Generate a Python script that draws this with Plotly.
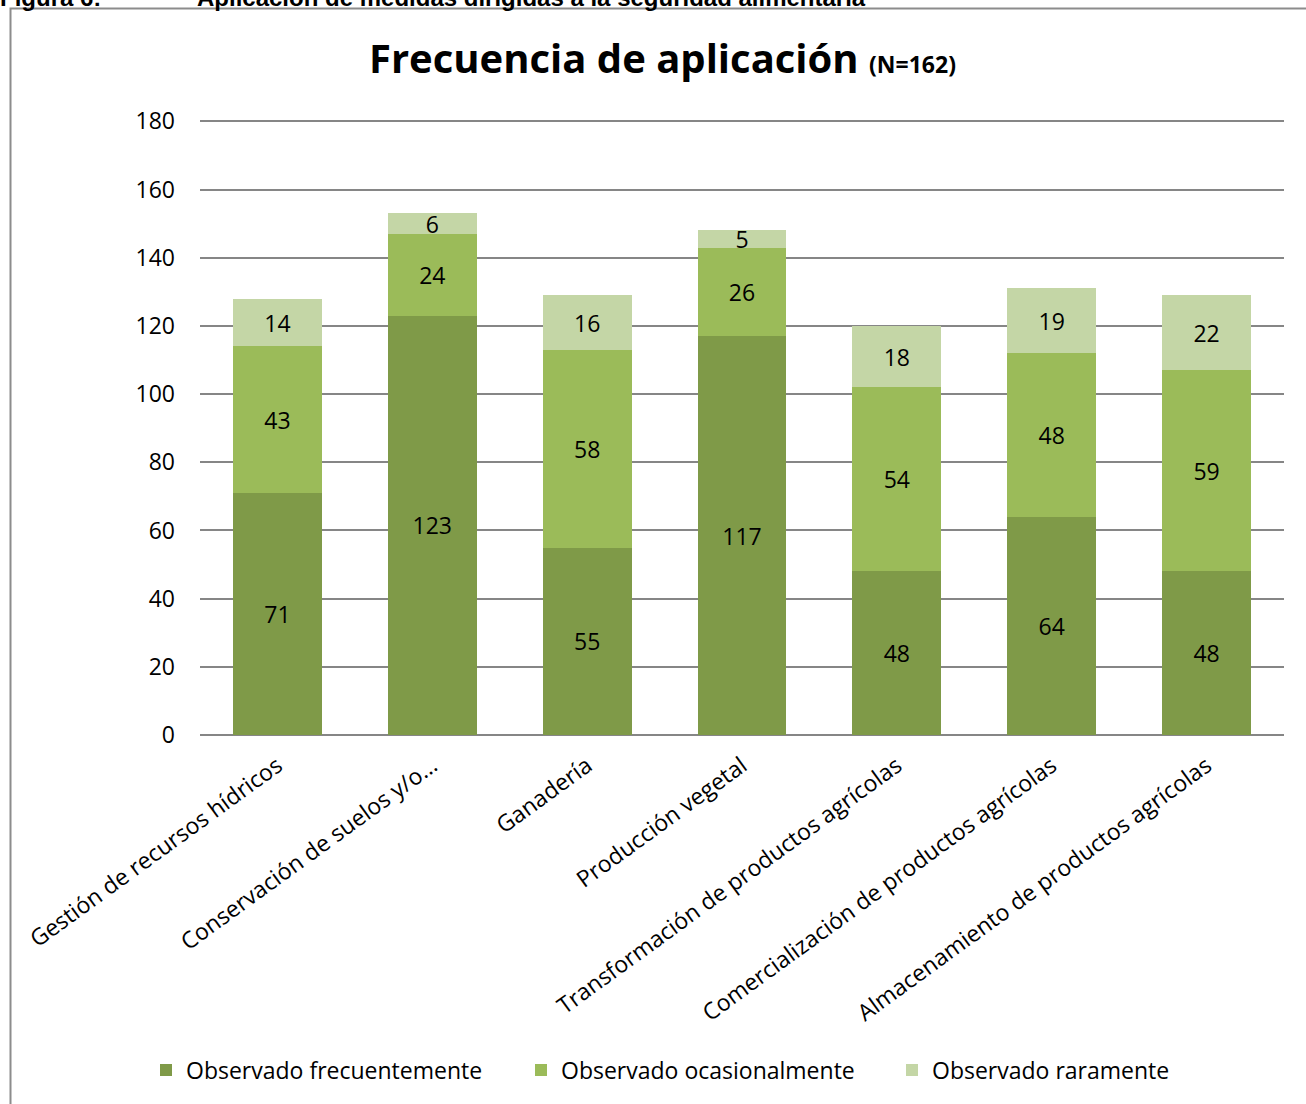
import plotly.graph_objects as go

categories = [
    "Gestión de recursos hídricos",
    "Conservación de suelos y/o…",
    "Ganadería",
    "Producción vegetal",
    "Transformación de productos agrícolas",
    "Comercialización de productos agrícolas",
    "Almacenamiento de productos agrícolas",
]
frecuente = [71, 123, 55, 117, 48, 64, 48]
ocasional = [43, 24, 58, 26, 54, 48, 59]
raro = [14, 6, 16, 5, 18, 19, 22]
series_names = ["Observado frecuentemente", "Observado ocasionalmente", "Observado raramente"]
colors = ["#7F9A48", "#9BBB59", "#C4D6A6"]
y_ticks = [0, 20, 40, 60, 80, 100, 120, 140, 160, 180]

FONT = "Open Sans"
FS = 23

legend_ids = ["legend", "legend2", "legend3"]
legend_x = [146, 521, 892]

fig = go.Figure()
for name, vals, col, lid in zip(series_names, [frecuente, ocasional, raro], colors, legend_ids):
    fig.add_trace(go.Bar(
        x=categories, y=vals, name=name, legend=lid,
        marker=dict(color=col, line=dict(width=0)),
        text=vals, texttemplate="%{text}",
        textposition="inside", insidetextanchor="middle", textangle=0,
        textfont=dict(color="black", size=FS, family=FONT),
        constraintext="none", cliponaxis=False,
    ))

legend_common = dict(
    orientation="h", xref="container", yref="container",
    xanchor="left", y=1 - 1070 / 1104, yanchor="middle",
    font=dict(size=FS, family=FONT), bgcolor="rgba(0,0,0,0)",
)

fig.update_layout(
    barmode="stack",
    bargap=0.426,
    width=1306, height=1104,
    margin=dict(l=200, r=22, t=120, b=369),
    paper_bgcolor="white", plot_bgcolor="white",
    font=dict(family=FONT, color="black", size=FS),
    uniformtext=dict(minsize=FS, mode="show"),
    showlegend=True,
    legend=dict(x=legend_x[0] / 1306, **legend_common),
    legend2=dict(x=legend_x[1] / 1306, **legend_common),
    legend3=dict(x=legend_x[2] / 1306, **legend_common),
    xaxis=dict(
        tickangle=-36, tickfont=dict(size=FS, family=FONT), showgrid=False,
        showline=False, ticks="", zeroline=False, ticklabelstandoff=12,
    ),
    yaxis=dict(
        range=[0, 180.4], tickvals=y_ticks, tickfont=dict(size=FS, family=FONT),
        showgrid=True, gridcolor="#868686", gridwidth=1.5,
        zeroline=True, zerolinecolor="#868686", zerolinewidth=2,
        showline=False, ticks="", ticklabelstandoff=24,
    ),
)

# Title
fig.add_annotation(
    xref="paper", yref="paper", x=(662 - 200) / 1084, y=(735 - 58) / 615,
    xanchor="center", yanchor="middle", showarrow=False,
    text="<b>Frecuencia de aplicación <span style='font-size:23px'>(N=162)</span></b>",
    font=dict(size=40, family=FONT, color="black"),
)

# Cut-off caption above frame
fig.add_annotation(
    xref="paper", yref="paper", x=(-2 - 200) / 1084, y=(735 + 3) / 615,
    xanchor="left", yanchor="middle", showarrow=False,
    text="<b>Figura 6:</b>", font=dict(size=24, family="Liberation Sans", color="black"),
)
fig.add_annotation(
    xref="paper", yref="paper", x=(195 - 200) / 1084, y=(735 + 3) / 615,
    xanchor="left", yanchor="middle", showarrow=False,
    text="<b>Aplicación de medidas dirigidas a la seguridad alimentaria</b>",
    font=dict(size=24, family="Liberation Sans", color="black"),
)

# Frame
fig.add_shape(
    type="rect", xref="paper", yref="paper",
    x0=(10.5 - 200) / 1084, x1=(1330 - 200) / 1084,
    y0=(735 - 1130) / 615, y1=(735 - 8.5) / 615,
    line=dict(color="#8C8C8C", width=2), fillcolor="rgba(0,0,0,0)", layer="below",
)

fig.write_html(
    "out.html",
    config={"displayModeBar": False},
    post_script="document.body.style.margin='0';",
)
